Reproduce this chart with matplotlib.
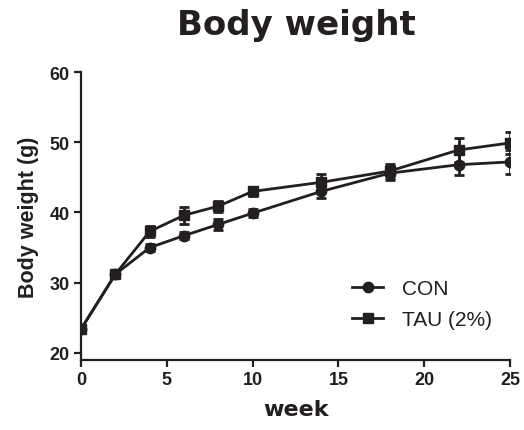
import numpy as np
import matplotlib
matplotlib.use("Agg")
import matplotlib.pyplot as plt
from matplotlib.lines import Line2D

# weekly body weight, mean and SE per group
weeks = [0, 2, 4, 6, 8, 10, 14, 18, 22, 25]
con_mean = [23.4, 31.2, 35.0, 36.7, 38.3, 39.9, 43.0, 45.6, 46.8, 47.2]
con_se = [0.3, 0.4, 0.5, 0.5, 0.8, 0.6, 0.9, 1.0, 1.5, 1.7]
tau_mean = [23.4, 31.2, 37.3, 39.6, 40.9, 43.0, 44.3, 45.9, 48.9, 49.9]
tau_se = [0.3, 0.4, 0.8, 1.2, 0.8, 0.6, 1.2, 1.0, 1.7, 1.6]
labels = ["CON", "TAU (2%)"]

ink = "#231f20"
lw = 2.0
tick_font = {"family": "Liberation Sans", "weight": "bold", "size": 13}

fig = plt.figure(figsize=(5.24, 4.31), dpi=100)
ax = fig.add_axes([81 / 524, 1 - 361 / 431, 429 / 524, 288 / 431])

ax.errorbar(weeks, con_mean, yerr=con_se, fmt="-o", color=ink, ecolor=ink,
            lw=lw, elinewidth=lw, capsize=3.6, capthick=lw, ms=7.5, zorder=3)
ax.errorbar(weeks, tau_mean, yerr=tau_se, fmt="-s", color=ink, ecolor=ink,
            lw=lw, elinewidth=lw, capsize=3.6, capthick=lw, ms=7.5, zorder=4)

ax.set_xlim(0, 25)
ax.set_ylim(19, 60)
ax.set_xticks(np.arange(0, 26, 5))
ax.set_yticks(np.arange(20, 61, 10))

for side in ["top", "right"]:
    ax.spines[side].set_visible(False)
for side in ["left", "bottom"]:
    ax.spines[side].set_linewidth(1.6)
    ax.spines[side].set_color(ink)
ax.tick_params(direction="out", length=5, width=1.6, color=ink, pad=3)
for lbl in ax.get_xticklabels() + ax.get_yticklabels():
    lbl.set_fontproperties(tick_font)
    lbl.set_color(ink)

ax.set_xlabel("week", fontfamily="DejaVu Sans", fontweight="bold",
              fontsize=16, color=ink, labelpad=8)
ax.set_ylabel("Body weight (g)", fontfamily="Liberation Sans", fontweight="bold",
              fontsize=15.5, color=ink, labelpad=8)
fig.text(296 / 524, 1 - 26 / 431, "Body weight", ha="center", va="center",
         fontfamily="DejaVu Sans", fontweight="bold", fontsize=24.5, color=ink)

# legend shows line + marker only, no error bars
handles = [Line2D([0], [0], color=ink, lw=lw, marker="o", ms=7.5),
           Line2D([0], [0], color=ink, lw=lw, marker="s", ms=7.5)]
leg = ax.legend(handles, labels, loc="center left", bbox_to_anchor=(0.632, 0.194),
                frameon=False, prop={"family": "Liberation Sans", "size": 15},
                handlelength=1.5, handletextpad=0.9, labelspacing=0.55,
                borderpad=0, borderaxespad=0)
for t in leg.get_texts():
    t.set_color(ink)

fig.savefig("out.png", dpi=100)
